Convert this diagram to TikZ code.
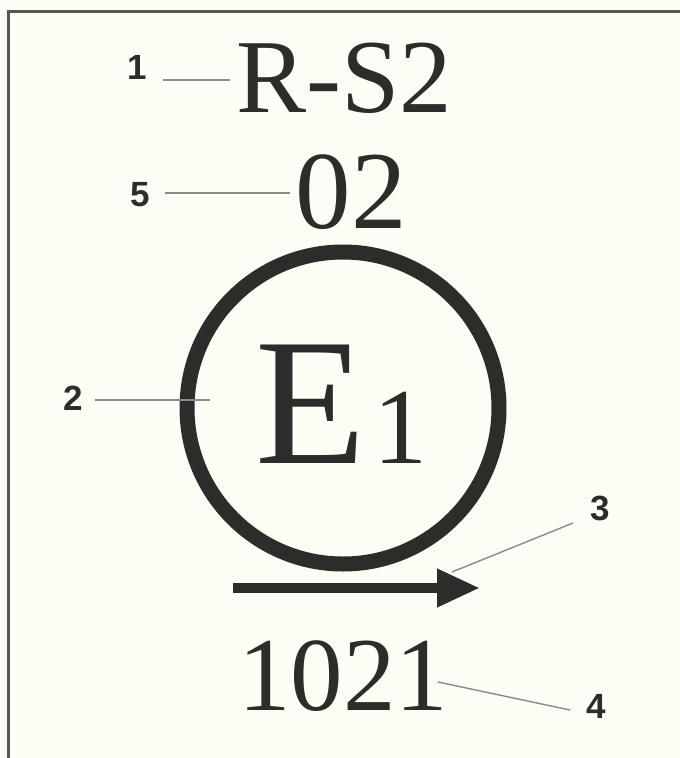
\documentclass[tikz,border=0pt]{standalone}
\usepackage{fontspec}
\setmainfont{Liberation Serif}
\newfontfamily\labfont{Liberation Sans}
\usetikzlibrary{arrows.meta}
\definecolor{ink}{HTML}{2E2C2A}
\definecolor{paper}{HTML}{FDFDF6}
\definecolor{leadc}{HTML}{8A8A86}
\begin{document}
\begin{tikzpicture}[x=1pt,y=-1pt,
  big/.style={inner sep=0pt,text=ink,anchor=base},
  lab/.style={inner sep=0pt,text=ink,font=\labfont\bfseries\fontsize{35}{35}\selectfont},
  leader/.style={draw=leadc,line width=1.4pt},
  frame/.style={draw=ink!80,line width=3pt}]
\useasboundingbox (0,0) rectangle (680,758);
\fill[paper] (0,0) rectangle (680,758);
% frame (only top and left visible)
\coordinate (fbl) at (8,758);
\coordinate (ftl) at (8,11);
\coordinate (ftr) at (680,11);
\draw[frame] (fbl) -- (ftl) -- (ftr);
% main texts
\node[big,font=\fontsize{105}{105}\selectfont] (rs2) at (344,112) {R-S2};
\node[big,font=\fontsize{111}{111}\selectfont] (n02) at (351,228) {02};
\node[big,anchor=base west,font=\fontsize{181}{181}\selectfont] (E) at (255,463) {E};
\node[big,font=\fontsize{108}{108}\selectfont] (one) at (400,463) {1};
\node[big,font=\fontsize{105}{105}\selectfont] (n1021) at (343,710) {1021};
% circle
\node[draw=ink,line width=15pt,circle,minimum size=312pt,inner sep=0pt] (circ) at (343,408) {};
% arrow
\coordinate (arrS) at (233,588);
\coordinate (arrE) at (480,588);
\draw[ink,line width=10pt,-{Triangle[length=43pt,width=36pt]}] (arrS) -- (arrE);
% labels
\node[lab] (l1) at (137,67) {1};
\node[lab] (l5) at (140,195) {5};
\node[lab] (l2) at (73,398) {2};
\node[lab] (l3) at (600,508) {3};
\node[lab] (l4) at (596,706) {4};
% leader ends
\coordinate (a1) at (163,80);  \coordinate (b1) at (230,80);
\coordinate (a5) at (165,193); \coordinate (b5) at (290,193);
\coordinate (a2) at (95,400);  \coordinate (b2) at (210,400);
\coordinate (a3) at (573,523); \coordinate (b3) at (452,572);
\coordinate (a4) at (570,710); \coordinate (b4) at (438,682);
\draw[leader] (a1) -- (b1);
\draw[leader] (a5) -- (b5);
\draw[leader] (a2) -- (b2);
\draw[leader] (a3) -- (b3);
\draw[leader] (a4) -- (b4);
\end{tikzpicture}
\end{document}
